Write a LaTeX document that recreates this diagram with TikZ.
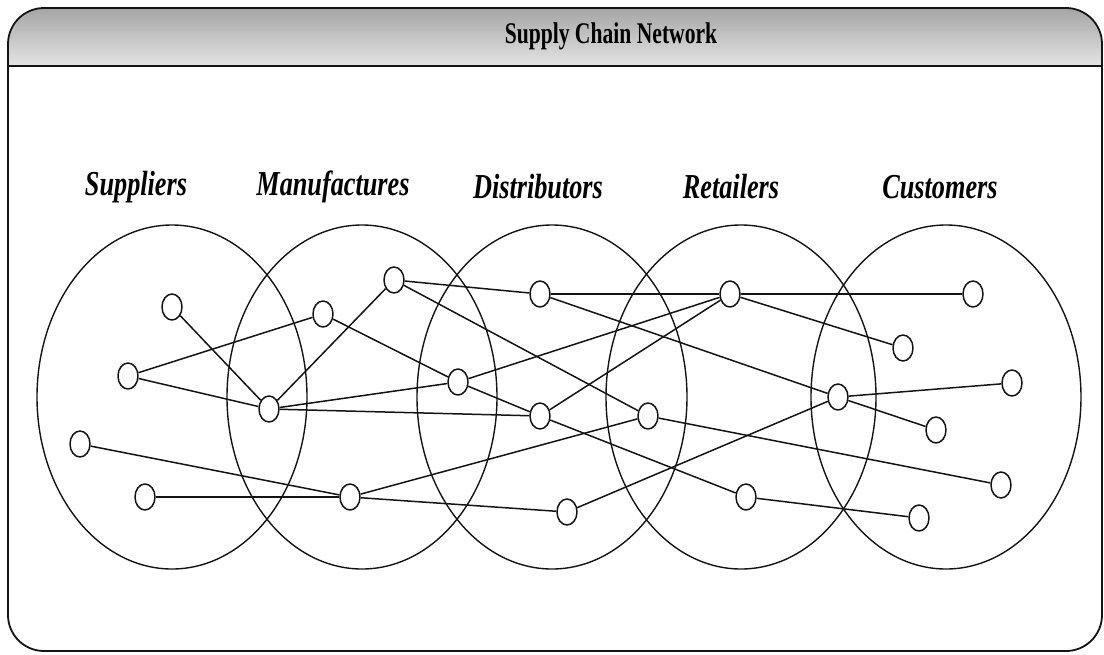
\documentclass[tikz,border=0pt]{standalone}
\usepackage{fontspec}
\setmainfont{Liberation Serif}
\newfontfamily\narrowserif[FakeStretch=0.75]{Liberation Serif}
\newfontfamily\titleserif[FakeStretch=0.72]{Liberation Serif}
\usepackage{tikz}
\usetikzlibrary{shapes.geometric}
\definecolor{bartop}{RGB}{165,165,165}
\definecolor{barbottom}{RGB}{228,228,228}
\definecolor{inkblack}{RGB}{20,20,20}

\begin{document}
\begin{tikzpicture}[x=1pt, y=-1pt, line join=round,
    region/.style={draw=inkblack, line width=1.4pt, ellipse, minimum width=270pt, minimum height=344pt, inner sep=0pt},
    site/.style={draw=inkblack, line width=1.5pt, ellipse, minimum width=20pt, minimum height=26pt, inner sep=0pt},
    tier/.style={font=\narrowserif\bfseries\itshape\fontsize{35}{35}\selectfont},
    link/.style={line width=1.5pt, inkblack}]
    \useasboundingbox (0,0) rectangle (1104,654);

    % frame with shaded title bar
    \begin{scope}
        \clip[rounded corners=36pt] (8,8) rectangle (1102,651);
        \shade[top color=bartop, bottom color=barbottom] (8,8) rectangle (1102,66);
    \end{scope}
    \draw[inkblack, line width=1.8pt, rounded corners=36pt] (8,8) rectangle (1102,651);
    \draw[inkblack, line width=1.6pt] (8,66) -- (1102,66);
    \node[font=\titleserif\bfseries\fontsize{30}{30}\selectfont] (title) at (611,36) {Supply Chain Network};

    % tiers
    \node[region] (supgrp) at (172,397) {};
    \node[region] (mangrp) at (362,397) {};
    \node[region] (disgrp) at (552,397) {};
    \node[region] (retgrp) at (741,397) {};
    \node[region] (cusgrp) at (946,397) {};

    \node[tier] (supname) at (136,187) {Suppliers};
    \node[tier] (manname) at (333,187) {Manufactures};
    \node[tier] (disname) at (538,187) {Distributors};
    \node[tier] (retname) at (731,187) {Retailers};
    \node[tier] (cusname) at (940,187) {Customers};

    % members of each tier
    \node[site] (s1) at (172,307) {};
    \node[site] (s2) at (128,376) {};
    \node[site] (s3) at (80,444) {};
    \node[site] (s4) at (145,497) {};

    \node[site] (m1) at (323,314) {};
    \node[site] (m2) at (269,409) {};
    \node[site] (m3) at (394,280) {};
    \node[site] (m4) at (350,497) {};

    \node[site] (d1) at (540,294) {};
    \node[site] (d2) at (458,382) {};
    \node[site] (d3) at (540,416) {};
    \node[site] (d4) at (567,512) {};

    \node[site] (r1) at (730,294) {};
    \node[site] (r2) at (648,416) {};
    \node[site] (r3) at (746,497) {};
    \node[site] (r4) at (838,397) {};

    \node[site] (c1) at (973,294) {};
    \node[site] (c2) at (903,348) {};
    \node[site] (c3) at (1012,383) {};
    \node[site] (c4) at (936,430) {};
    \node[site] (c5) at (1001,485) {};
    \node[site] (c6) at (919,518) {};

    % flows
    \draw[link] (s1) -- (m2);
    \draw[link] (s2) -- (m1);
    \draw[link] (s2) -- (m2);
    \draw[link] (s3) -- (m4);
    \draw[link] (s4) -- (m4);

    \draw[link] (m2) -- (m3);
    \draw[link] (m2) -- (d2);
    \draw[link] (m2) -- (d3);
    \draw[link] (m1) -- (d2);
    \draw[link] (d2) -- (d3);
    \draw[link] (m3) -- (d1);
    \draw[link] (m3) -- (r2);
    \draw[link] (m4) -- (d4);
    \draw[link] (m4) -- (r2);

    \draw[link] (d1) -- (r1);
    \draw[link] (d1) -- (r4);
    \draw[link] (d2) -- (r1);
    \draw[link] (d3) -- (r1);
    \draw[link] (d3) -- (r3);
    \draw[link] (d4) -- (r4);

    \draw[link] (r1) -- (c1);
    \draw[link] (r1) -- (c2);
    \draw[link] (r2) -- (c5);
    \draw[link] (r3) -- (c6);
    \draw[link] (r4) -- (c3);
    \draw[link] (r4) -- (c4);
\end{tikzpicture}
\end{document}
